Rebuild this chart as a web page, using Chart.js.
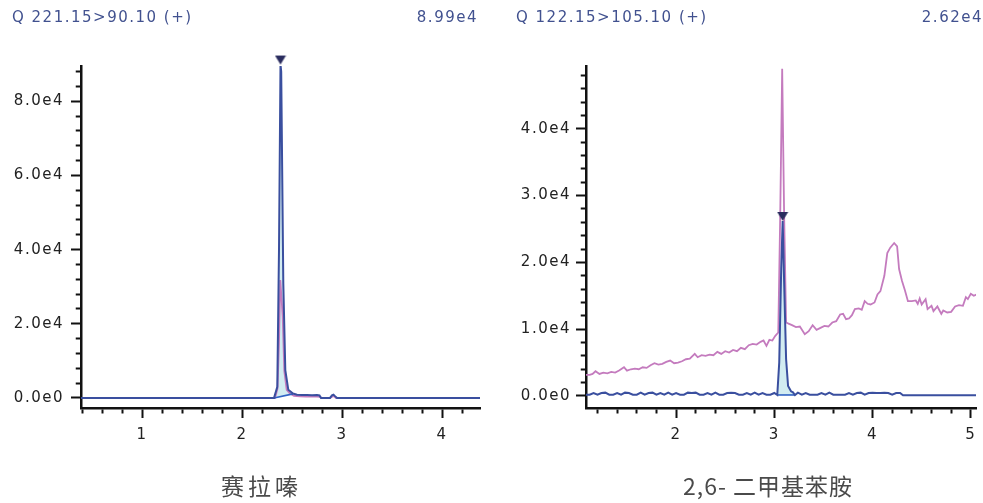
<!DOCTYPE html>
<html>
<head>
<meta charset="utf-8">
<script src="https://cdn.jsdelivr.net/npm/chart.js@4.4.1/dist/chart.umd.min.js"></script>
<style>
    body { margin: 0; width: 983px; height: 503px; position: relative; overflow: hidden; background: #fff; font-family: 'DejaVu Sans', sans-serif; }
    canvas { position: absolute; top: 0; }
    .title { position: absolute; top: 10px; font-size: 15px; line-height: 15px; color: #41518f; letter-spacing: 1.5px; white-space: nowrap; }
    .name { position: absolute; top: 474px; font-family: 'Noto Sans CJK SC', sans-serif; font-size: 23px; line-height: 23px; color: #4a4a4a; white-space: nowrap; }
</style>
</head>
<body>
<canvas id="leftChart" width="490" height="503" style="left:0"></canvas>
<canvas id="rightChart" width="493" height="503" style="left:490px"></canvas>
<div class="title" style="left:12px">Q 221.15&gt;90.10 (+)</div>
<div class="title" style="right:505px">8.99e4</div>
<div class="title" style="left:516px">Q 122.15&gt;105.10 (+)</div>
<div class="title" style="right:0">2.62e4</div>
<div class="name" style="left:221px; letter-spacing:4px">赛拉嗪</div>
<div class="name" style="left:683px; letter-spacing:1px">2,6- 二甲基苯胺</div>
<script>
// Cromatogramma sinistro (Q 221.15>90.10): tempi in min, intensità in conteggi
var leftBlueTime = [0.39, 2.32, 2.353, 2.37, 2.385, 2.392, 2.413, 2.433, 2.463, 2.51, 2.55, 2.6, 2.65, 2.7, 2.75, 2.775, 2.79, 2.88, 2.9, 2.915, 2.93, 2.95, 4.38];
var leftBlueInt = [0, 0, 3000, 40000, 89900, 88000, 30900, 7500, 2200, 1200, 900, 800, 800, 750, 800, 700, 0, 0, 700, 900, 500, 0, 0];
var leftPinkTime = [0.39, 2.33, 2.355, 2.37, 2.383, 2.395, 2.407, 2.423, 2.447, 2.48, 2.52, 2.58, 2.64, 2.7, 2.75, 2.78, 2.8, 2.88, 2.905, 2.92, 2.94, 4.38];
var leftPinkInt = [0, 0, 2500, 15000, 31800, 27000, 21900, 7300, 2200, 1200, 600, 450, 400, 350, 400, 300, 0, 0, 400, 500, 0, 0];
var leftApexTime = [2.385];
var leftApexInt = [89900];
var leftBaseTime = [2.32, 2.51];
var leftBaseInt = [0, 1100];

// Cromatogramma destro (Q 122.15>105.10)
var rightBlueTime = [1.08, 1.12, 1.16, 1.20, 1.24, 1.28, 1.32, 1.36, 1.40, 1.44, 1.48, 1.52, 1.56, 1.60, 1.64, 1.68, 1.72, 1.76, 1.80, 1.84,
    1.88, 1.92, 1.96, 2.00, 2.04, 2.08, 2.12, 2.16, 2.20, 2.24, 2.28, 2.32, 2.36, 2.40, 2.44, 2.48, 2.52, 2.56, 2.60, 2.64,
    2.68, 2.72, 2.76, 2.80, 2.84, 2.88, 2.92, 2.96, 3.00, 3.03, 3.05, 3.07, 3.085, 3.10, 3.12, 3.14, 3.17, 3.19, 3.21,
    3.24, 3.28, 3.32, 3.36, 3.40, 3.44, 3.48, 3.52, 3.56, 3.60, 3.64, 3.68, 3.72, 3.76, 3.80, 3.84, 3.88, 3.92, 3.96, 4.00,
    4.04, 4.08, 4.12, 4.16, 4.20, 4.24, 4.28, 4.31, 5.06];
var rightBlueInt = [200, 200, 450, 200, 450, 500, 200, 200, 450, 200, 500, 450, 200, 200, 500, 200, 450, 500, 200, 450,
    200, 500, 200, 450, 200, 200, 500, 450, 500, 200, 200, 450, 200, 500, 200, 200, 450, 500, 450, 200,
    200, 450, 200, 500, 200, 450, 200, 200, 450, 150, 5000, 19000, 26200, 17000, 5500, 1500, 700, 550, 150,
    500, 200, 450, 200, 200, 200, 450, 200, 500, 200, 200, 200, 200, 450, 200, 450, 500, 200, 450, 500,
    450, 450, 500, 450, 200, 450, 450, 100, 100];
var rightPinkTime = [1.08, 1.12, 1.15, 1.18, 1.22, 1.26, 1.30, 1.34, 1.38, 1.42, 1.47, 1.50, 1.54, 1.58, 1.62, 1.66, 1.70, 1.74, 1.78, 1.82,
    1.86, 1.90, 1.94, 1.98, 2.02, 2.06, 2.10, 2.14, 2.19, 2.22, 2.26, 2.30, 2.34, 2.38, 2.42, 2.46, 2.50, 2.54, 2.58, 2.62,
    2.66, 2.70, 2.74, 2.78, 2.82, 2.86, 2.89, 2.92, 2.95, 2.98, 3.01, 3.04, 3.06, 3.08, 3.10, 3.12, 3.15, 3.18, 3.22, 3.26,
    3.31, 3.35, 3.39, 3.43, 3.47, 3.51, 3.55, 3.59, 3.63, 3.67, 3.70, 3.73, 3.76, 3.79, 3.82, 3.86, 3.89, 3.92, 3.95, 3.98,
    4.02, 4.05, 4.08, 4.12, 4.15, 4.18, 4.22, 4.25, 4.27, 4.30, 4.33, 4.36, 4.40, 4.44, 4.46, 4.48, 4.50, 4.54, 4.56, 4.60,
    4.62, 4.66, 4.70, 4.72, 4.76, 4.80, 4.84, 4.88, 4.92, 4.95, 4.97, 5.00, 5.03, 5.06];
var rightPinkInt = [3150, 3150, 3300, 3700, 3300, 3500, 3400, 3600, 3500, 3800, 4300, 3800, 4000, 4100, 4000, 4300, 4200, 4600, 4900, 4700,
    4800, 5100, 5300, 4900, 5000, 5200, 5500, 5600, 6300, 5800, 6100, 6000, 6200, 6100, 6600, 6300, 6700, 6500, 6900, 6700,
    7200, 7000, 7600, 7800, 7700, 8100, 8300, 7500, 8400, 8300, 9000, 9500, 27000, 49000, 27000, 11000, 10800, 10600, 10300, 10400,
    9250, 9700, 10600, 9900, 10200, 10500, 10400, 11000, 11200, 12200, 12300, 11500, 11600, 12100, 13000, 13100, 12900, 14200, 13800, 13700,
    14000, 15200, 15700, 18000, 21400, 22200, 22900, 22400, 19000, 17200, 15800, 14200, 14200, 14300, 13800, 14600, 13700, 14500, 13000, 13500,
    12700, 13400, 12300, 12800, 12500, 12600, 13400, 13600, 13500, 14800, 14500, 15300, 15000, 15200];
var rightApexTime = [3.085];
var rightApexInt = [26200];
var rightBaseTime = [3.03, 3.21];
var rightBaseInt = [150, 150];

// Colori delle tracce
var blueColor = '#3a4f9f';
var pinkColor = '#c47bbe';
var fillColor = '#d2ecf1';
var baseColor = '#2f62c4';

// Triangolo che segna l'apice del picco (la punta cade sul punto)
var apexMark = document.createElement('canvas');
apexMark.width = 12;
apexMark.height = 20;
var mctx = apexMark.getContext('2d');
mctx.fillStyle = '#2a2c5e';
mctx.beginPath();
mctx.moveTo(0.5, 1);
mctx.lineTo(11.5, 1);
mctx.lineTo(6, 10);
mctx.closePath();
mctx.fill();

function toPoints(times, values) {
    return times.map(function (t, i) { return { x: t, y: values[i] }; });
}

// Punti della traccia blu compresi fra gli estremi di integrazione
function areaPoints(times, values, baseTimes) {
    return toPoints(times, values).filter(function (p) {
        return p.x >= baseTimes[0] - 1e-9 && p.x <= baseTimes[1] + 1e-9;
    });
}

function buildDatasets(blueT, blueI, pinkT, pinkI, apexT, apexI, baseT, baseI) {
    return [
        { data: toPoints(apexT, apexI), showLine: false, pointStyle: apexMark, pointRadius: 6, clip: false },
        { data: toPoints(blueT, blueI), borderColor: blueColor, borderWidth: 2, pointRadius: 0, tension: 0, fill: false },
        { data: toPoints(baseT, baseI), borderColor: baseColor, borderWidth: 1.6, pointRadius: 0, fill: false },
        { data: toPoints(pinkT, pinkI), borderColor: pinkColor, borderWidth: 1.8, pointRadius: 0, tension: 0, fill: false },
        { data: areaPoints(blueT, blueI, baseT), borderWidth: 0, pointRadius: 0, backgroundColor: fillColor, fill: 2 }
    ];
}

function isMajor(value, step) {
    return Math.abs(value / step - Math.round(value / step)) < 1e-6;
}

// Spaziatura delle lettere come nel riferimento
var letterSpacingPlugin = {
    id: 'letterSpacing',
    beforeDraw: function (chart) {
        chart.ctx.letterSpacing = '1.5px';
    }
};

function buildChart(id, datasets, cfg) {
    var tickFont = { family: 'DejaVu Sans', size: 15 };
    return new Chart(document.getElementById(id), {
        type: 'line',
        data: { datasets: datasets },
        options: {
            responsive: false,
            animation: false,
            events: [],
            layout: { padding: { top: 66, right: cfg.padRight, left: 0, bottom: 0 } },
            plugins: { legend: { display: false }, tooltip: { enabled: false } },
            scales: {
                x: {
                    type: 'linear',
                    min: cfg.xMin,
                    max: cfg.xMax,
                    border: { color: '#111', width: 2.5 },
                    grid: {
                        drawOnChartArea: false,
                        tickLength: 10,
                        tickColor: '#111',
                        tickWidth: 2,
                        tickBorderDash: function (c) {
                            return c.tick && isMajor(c.tick.value, 1) ? [] : [4, 20];
                        }
                    },
                    ticks: {
                        stepSize: 0.2,
                        autoSkip: false,
                        includeBounds: false,
                        maxRotation: 0,
                        padding: 8,
                        color: '#222',
                        font: tickFont,
                        callback: function (v) { return isMajor(v, 1) ? String(Math.round(v)) : ''; }
                    },
                    afterFit: function (s) { s.height = 95; s.paddingLeft = 0; s.paddingRight = 0; }
                },
                y: {
                    type: 'linear',
                    min: cfg.yMin,
                    max: cfg.yMax,
                    border: { color: '#111', width: 2.5 },
                    grid: {
                        drawOnChartArea: false,
                        tickLength: 10,
                        tickColor: '#111',
                        tickWidth: 2,
                        tickBorderDash: function (c) {
                            return c.tick && isMajor(c.tick.value, cfg.yMajor) ? [] : [0, 4.75, 10];
                        }
                    },
                    ticks: {
                        autoSkip: false,
                        padding: cfg.labelPad,
                        color: '#222',
                        font: tickFont,
                        callback: function (v) {
                            if (!isMajor(v, cfg.yMajor)) return '';
                            return v === 0 ? '0.0e0' : (v / 1e4).toFixed(1) + 'e4';
                        }
                    },
                    // tacche ogni yMinor a partire da zero
                    afterBuildTicks: function (s) {
                        var ticks = [];
                        for (var v = 0; v <= s.max; v += cfg.yMinor) ticks.push({ value: v });
                        s.ticks = ticks;
                    },
                    afterFit: function (s) { s.width = cfg.yWidth; s.paddingTop = 0; s.paddingBottom = 0; }
                }
            }
        },
        plugins: [letterSpacingPlugin]
    });
}

buildChart('leftChart',
    buildDatasets(leftBlueTime, leftBlueInt, leftPinkTime, leftPinkInt, leftApexTime, leftApexInt, leftBaseTime, leftBaseInt),
    { xMin: 0.39, xMax: 4.38, yMin: -2700, yMax: 89500, yMinor: 4000, yMajor: 20000, yWidth: 81, padRight: 10, labelPad: 7 });

buildChart('rightChart',
    buildDatasets(rightBlueTime, rightBlueInt, rightPinkTime, rightPinkInt, rightApexTime, rightApexInt, rightBaseTime, rightBaseInt),
    { xMin: 1.083, xMax: 5.053, yMin: -1800, yMax: 49400, yMinor: 2000, yMajor: 10000, yWidth: 96, padRight: 0, labelPad: 5 });
</script>
</body>
</html>
